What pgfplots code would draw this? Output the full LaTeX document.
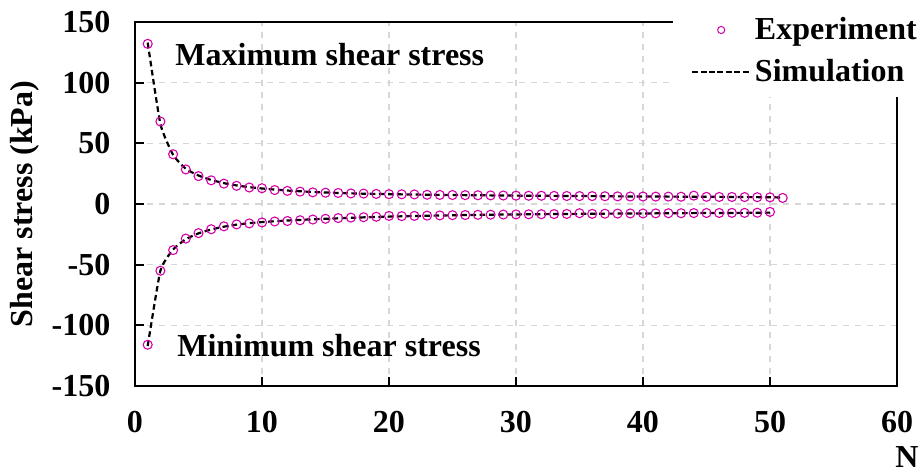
\documentclass[border=0pt]{standalone}
\usepackage{fontspec}
\setmainfont{Liberation Serif}
\usepackage{pgfplots}
\pgfplotsset{compat=1.18}
\definecolor{expmag}{RGB}{214,0,170}
\definecolor{gridgray}{RGB}{215,215,215}

\begin{document}
\begin{tikzpicture}
\begin{axis}[
  scale only axis,
  width=381pt, height=182pt,
  xmin=0, xmax=60, ymin=-150, ymax=150,
  xtick={0,10,20,30,40,50,60},
  xticklabels={0,10,20,30,40,50,60},
  ytick={-150,-100,-50,0,50,100,150},
  yticklabels={-150,-100,-50,0,50,100,150},
  xtick pos=left, ytick pos=left,
  tick align=inside,
  major tick length=4.5pt,
  tick style={black, line width=0.9pt},
  axis line style={line width=1pt},
  grid=major,
  major grid style={gridgray, line width=0.6pt, dash pattern=on 3pt off 3pt},
  font=\fontsize{16}{19}\selectfont\bfseries,
  xticklabel style={yshift=-9.2pt},
  yticklabel style={xshift=-8.8pt},
  xlabel={N},
  xlabel style={at={(axis description cs:1.0131,-0.196)}, anchor=center},
  ylabel={Shear stress (kPa)},
  ylabel style={at={(axis description cs:-0.1444,0.5)}, anchor=center},
  legend style={draw=none, fill=white, at={(axis description cs:1,1)}, anchor=north west,
    xshift=-112pt, yshift=8.5pt, inner xsep=9pt, inner ysep=4pt,
    row sep=4.5pt, font=\fontsize{16}{19}\selectfont\bfseries},
  legend cell align=left,
  clip=false,
]
% Experiment: maximum shear stress
\addplot[only marks, mark=o, mark size=2.25pt, expmag, line width=0.55pt,
  legend image code/.code={\draw[expmag, line width=0.5pt, mark=o, mark size=1.8pt, only marks] plot coordinates {(14.5pt,0pt)}; \path (0pt,0pt) (29pt,0pt);}] coordinates {
(1,132) (2,68) (3,41) (4,28.5) (5,23) (6,19.5) (7,16.8) (8,15) (9,13.6) (10,13)
(11,11.5) (12,10.8) (13,10.2) (14,9.6) (15,9.3) (16,9.1) (17,8.7) (18,8.6) (19,8.3) (20,8.1)
(21,8.0) (22,7.9) (23,7.6) (24,7.5) (25,7.4) (26,7.3) (27,7.2) (28,7.1) (29,7.0) (30,6.9)
(31,6.8) (32,6.8) (33,6.7) (34,6.6) (35,6.5) (36,6.5) (37,6.4) (38,6.3) (39,6.2) (40,6.2)
(41,6.1) (42,6.1) (43,6.0) (44,6.9) (45,5.9) (46,5.8) (47,5.8) (48,5.7) (49,5.6) (50,5.5)
(51,5.0)};
\addlegendentry{Experiment}
% Simulation: maximum shear stress
\addplot[black, line width=1.1pt, dash pattern=on 2.8pt off 1.8pt, smooth, tension=0.3,
  legend image code/.code={\draw[black, line width=0.8pt, dash pattern=on 3pt off 1.2pt] (0pt,0pt) -- (29pt,0pt);}] coordinates {
(1,133) (2,66) (3,40.5) (4,29) (5,23.5) (6,19.8) (7,17.2) (8,15.3) (9,13.9) (10,12.8)
(11,11.9) (12,11.1) (13,10.5) (14,9.9) (15,9.5) (16,9.1) (17,8.8) (18,8.5) (19,8.3) (20,8.1)
(22,7.8) (24,7.5) (26,7.3) (28,7.1) (30,6.9) (32,6.8) (34,6.6) (36,6.5) (38,6.3) (40,6.2)
(42,6.1) (44,6.0) (46,5.9) (48,5.7) (50,5.6) (51,5.3)};
\addlegendentry{Simulation}
% Experiment: minimum shear stress
\addplot[only marks, mark=o, mark size=2.25pt, expmag, line width=0.55pt, forget plot] coordinates {
(1,-116) (2,-55) (3,-38) (4,-28.5) (5,-24) (6,-20.8) (7,-18.4) (8,-16.8) (9,-16) (10,-15.2)
(11,-14.4) (12,-14) (13,-13.4) (14,-12.8) (15,-12.2) (16,-11.6) (17,-11.2) (18,-10.9) (19,-10.5) (20,-9.8)
(21,-10) (22,-9.8) (23,-9.6) (24,-9.4) (25,-9.2) (26,-9.1) (27,-8.9) (28,-8.8) (29,-8.7) (30,-8.6)
(31,-8.5) (32,-8.4) (33,-8.3) (34,-8.2) (35,-7.6) (36,-8.1) (37,-8.0) (38,-7.9) (39,-7.8) (40,-7.8)
(41,-7.7) (42,-7.6) (43,-7.6) (44,-7.5) (45,-7.4) (46,-7.4) (47,-7.3) (48,-7.3) (49,-7.2) (50,-6.5)};
% Simulation: minimum shear stress
\addplot[black, line width=1.1pt, dash pattern=on 2.8pt off 1.8pt, smooth, tension=0.3, forget plot] coordinates {
(1,-117) (2,-55) (3,-37.5) (4,-29) (5,-24.2) (6,-21) (7,-18.7) (8,-17) (9,-15.8) (10,-14.9)
(11,-14.2) (12,-13.6) (13,-13.1) (14,-12.6) (15,-12.2) (16,-11.8) (17,-11.4) (18,-11) (19,-10.7) (20,-10.4)
(22,-9.9) (24,-9.5) (26,-9.1) (28,-8.8) (30,-8.6) (32,-8.4) (34,-8.2) (36,-8.0) (38,-7.9) (40,-7.8)
(42,-7.6) (44,-7.5) (46,-7.4) (48,-7.3) (50,-7.1)};
\node[anchor=west, inner sep=0pt] at (axis cs:3.15,123) {Maximum shear stress};
\node[anchor=west, inner sep=0pt] at (axis cs:3.3,-117) {Minimum shear stress};
\end{axis}
\pgfresetboundingbox
\path (-67.5pt,-43pt) rectangle (393pt,193pt);
\end{tikzpicture}
\end{document}
